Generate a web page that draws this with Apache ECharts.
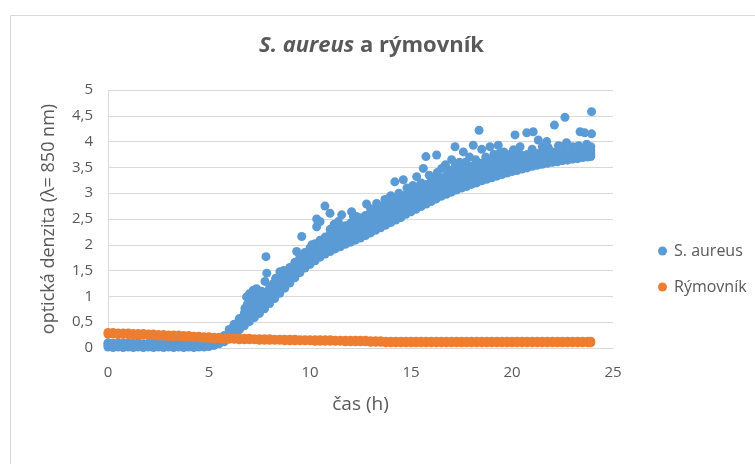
<!DOCTYPE html>
<html>
<head>
<meta charset="utf-8">
<title>S. aureus a rýmovník</title>
<script src="https://cdn.jsdelivr.net/npm/echarts@6/dist/echarts.min.js"></script>
<style>
  html, body { margin: 0; padding: 0; background: #fff; }
  #chart { width: 755px; height: 464px; }
</style>
</head>
<body>
<div id="chart"></div>
<script>
// čas merania (h)
const bandTime = [
  0, 0.25, 0.5, 0.75, 1, 1.25, 1.5, 1.75,
  2, 2.25, 2.5, 2.75, 3, 3.25, 3.5, 3.75,
  4, 4.25, 4.5, 4.75, 5, 5.25, 5.5, 5.75,
  6, 6.25, 6.5, 6.75, 7, 7.25, 7.5, 7.75,
  8, 8.25, 8.5, 8.75, 9, 9.25, 9.5, 9.75,
  10, 10.25, 10.5, 10.75, 11, 11.25, 11.5, 11.75,
  12, 12.25, 12.5, 12.75, 13, 13.25, 13.5, 13.75,
  14, 14.25, 14.5, 14.75, 15, 15.25, 15.5, 15.75,
  16, 16.25, 16.5, 16.75, 17, 17.25, 17.5, 17.75,
  18, 18.25, 18.5, 18.75, 19, 19.25, 19.5, 19.75,
  20, 20.25, 20.5, 20.75, 21, 21.25, 21.5, 21.75,
  22, 22.25, 22.5, 22.75, 23, 23.25, 23.5, 23.75,
  23.9
];

// S. aureus - hustý pás bodov, štyri vrstvy zdola nahor
const aureusLow = [
  0.02, 0.01, 0.02, 0.01, 0.02, 0.01, 0.02, 0.01,
  0.02, 0.01, 0.02, 0.01, 0.02, 0.01, 0.02, 0.01,
  0.02, 0.01, 0.02, 0.02, 0.03, 0.05, 0.08, 0.12,
  0.20, 0.28, 0.35, 0.43, 0.51, 0.59, 0.67, 0.76,
  0.86, 0.96, 1.06, 1.16, 1.26, 1.36, 1.46, 1.55,
  1.62, 1.69, 1.76, 1.82, 1.87, 1.92, 1.96, 2.01,
  2.05, 2.09, 2.13, 2.18, 2.23, 2.28, 2.33, 2.38,
  2.43, 2.48, 2.53, 2.59, 2.64, 2.69, 2.74, 2.79,
  2.84, 2.89, 2.94, 2.98, 3.02, 3.06, 3.10, 3.13,
  3.17, 3.20, 3.24, 3.27, 3.30, 3.33, 3.36, 3.39,
  3.42, 3.44, 3.47, 3.49, 3.52, 3.54, 3.56, 3.58,
  3.60, 3.61, 3.63, 3.64, 3.66, 3.67, 3.69, 3.70,
  3.71
];
const aureusMidLow = [
  0.05, 0.04, 0.05, 0.04, 0.05, 0.04, 0.05, 0.04,
  0.05, 0.05, 0.05, 0.04, 0.05, 0.04, 0.05, 0.04,
  0.05, 0.04, 0.05, 0.05, 0.07, 0.09, 0.12, 0.16,
  0.25, 0.34, 0.42, 0.51, 0.60, 0.69, 0.77, 0.86,
  0.96, 1.06, 1.16, 1.26, 1.36, 1.46, 1.56, 1.65,
  1.73, 1.80, 1.87, 1.93, 1.98, 2.04, 2.08, 2.13,
  2.17, 2.22, 2.26, 2.31, 2.36, 2.41, 2.46, 2.51,
  2.56, 2.61, 2.66, 2.72, 2.77, 2.82, 2.87, 2.92,
  2.97, 3.01, 3.06, 3.10, 3.14, 3.18, 3.22, 3.25,
  3.29, 3.32, 3.35, 3.38, 3.41, 3.43, 3.46, 3.49,
  3.51, 3.53, 3.56, 3.58, 3.60, 3.62, 3.63, 3.65,
  3.67, 3.67, 3.69, 3.70, 3.71, 3.72, 3.74, 3.74,
  3.75
];
const aureusMidHigh = [
  0.08, 0.07, 0.08, 0.07, 0.08, 0.07, 0.08, 0.06,
  0.07, 0.08, 0.07, 0.06, 0.08, 0.07, 0.08, 0.07,
  0.08, 0.07, 0.08, 0.08, 0.10, 0.12, 0.16, 0.20,
  0.31, 0.40, 0.50, 0.60, 0.70, 0.79, 0.88, 0.97,
  1.06, 1.16, 1.26, 1.36, 1.46, 1.56, 1.66, 1.75,
  1.83, 1.91, 1.98, 2.04, 2.10, 2.15, 2.20, 2.25,
  2.30, 2.34, 2.39, 2.44, 2.49, 2.54, 2.59, 2.64,
  2.69, 2.74, 2.79, 2.84, 2.89, 2.94, 2.99, 3.04,
  3.09, 3.14, 3.18, 3.22, 3.26, 3.30, 3.34, 3.37,
  3.40, 3.43, 3.46, 3.49, 3.51, 3.54, 3.56, 3.58,
  3.61, 3.63, 3.64, 3.66, 3.68, 3.69, 3.71, 3.72,
  3.73, 3.74, 3.75, 3.75, 3.77, 3.77, 3.78, 3.79,
  3.80
];
const aureusHigh = [
  0.10, 0.09, 0.10, 0.09, 0.10, 0.09, 0.10, 0.08,
  0.09, 0.10, 0.09, 0.08, 0.10, 0.09, 0.10, 0.09,
  0.10, 0.09, 0.10, 0.10, 0.12, 0.15, 0.19, 0.24,
  0.36, 0.46, 0.57, 0.68, 0.79, 0.89, 0.98, 1.07,
  1.16, 1.26, 1.36, 1.46, 1.56, 1.66, 1.76, 1.85,
  1.94, 2.02, 2.09, 2.15, 2.21, 2.27, 2.32, 2.37,
  2.42, 2.47, 2.52, 2.57, 2.62, 2.67, 2.72, 2.77,
  2.82, 2.87, 2.92, 2.97, 3.02, 3.07, 3.12, 3.17,
  3.22, 3.26, 3.30, 3.34, 3.38, 3.42, 3.46, 3.49,
  3.52, 3.55, 3.58, 3.60, 3.62, 3.64, 3.66, 3.68,
  3.70, 3.72, 3.73, 3.75, 3.76, 3.77, 3.78, 3.79,
  3.80, 3.80, 3.81, 3.81, 3.82, 3.82, 3.83, 3.83,
  3.84
];

// S. aureus - roztrúsené body nad pásom [čas, OD]
const aureusScatter = [
  [6.24, 0.45], [6.5, 0.55], [6.78, 0.77], [6.86, 0.99], [6.9, 0.85], [7.0, 1.05],
  [7.1, 0.95], [7.19, 1.12], [7.3, 1.08], [7.35, 1.15], [7.45, 1.0], [7.5, 1.1],
  [7.6, 1.1], [7.7, 1.05], [7.77, 1.29], [7.82, 1.77], [7.86, 1.45], [8.0, 1.15],
  [8.1, 1.2], [8.2, 1.25], [8.3, 1.35], [8.4, 1.3], [8.51, 1.48], [8.6, 1.4],
  [8.7, 1.5], [8.9, 1.5], [9.34, 1.87], [9.59, 2.16],
  [9.9, 1.85], [10.1, 2.0], [10.33, 2.35], [10.33, 2.5], [10.5, 2.45], [10.74, 2.75],
  [10.99, 2.61], [11.0, 2.3], [11.2, 2.4], [11.4, 2.45], [11.57, 2.58], [11.73, 2.35],
  [12.06, 2.64], [12.15, 2.55], [12.3, 2.55], [12.5, 2.5], [12.8, 2.79], [13.0, 2.7],
  [13.1, 2.62], [13.3, 2.8], [13.47, 2.75], [13.71, 2.88], [13.9, 2.9], [14.0, 2.95],
  [14.2, 3.22], [14.4, 3.0], [14.62, 3.26], [14.8, 3.1], [14.9, 3.05], [15.1, 3.15],
  [15.28, 3.32], [15.5, 3.2], [15.61, 3.48], [15.74, 3.71], [15.9, 3.35], [16.0, 3.3],
  [16.27, 3.74], [16.3, 3.4], [16.52, 3.48], [16.7, 3.55], [16.9, 3.45], [17.01, 3.65],
  [17.18, 3.9], [17.2, 3.55], [17.4, 3.6], [17.59, 3.8], [17.7, 3.6], [17.9, 3.7],
  [18.08, 3.93], [18.2, 3.65], [18.37, 4.22], [18.5, 3.85], [18.7, 3.7], [18.91, 3.9],
  [19.1, 3.75], [19.32, 3.93], [19.4, 3.78], [19.6, 3.8], [19.9, 3.75], [20.07, 3.84],
  [20.15, 4.13], [20.3, 3.82], [20.4, 3.9], [20.73, 4.17], [21.0, 3.85], [21.05, 4.19],
  [21.3, 4.03], [21.5, 3.9], [21.72, 4.0], [21.8, 3.88], [22.1, 4.32], [22.3, 3.92],
  [22.5, 3.9], [22.62, 4.47], [22.7, 3.98], [23.0, 3.9], [23.3, 3.92], [23.37, 4.19],
  [23.6, 4.17], [23.7, 3.95], [23.9, 3.9], [23.94, 4.58], [23.94, 4.15]
];

// Rýmovník - horná a dolná vrstva bodov
const rymovnikOD = [
  0.30, 0.30, 0.29, 0.29, 0.29, 0.28, 0.28, 0.28,
  0.27, 0.27, 0.26, 0.26, 0.25, 0.25, 0.25, 0.24,
  0.24, 0.23, 0.23, 0.22, 0.22, 0.21, 0.21, 0.20,
  0.20, 0.20, 0.19, 0.19, 0.19, 0.18, 0.18, 0.18,
  0.18, 0.17, 0.17, 0.17, 0.17, 0.17, 0.16, 0.16,
  0.16, 0.16, 0.16, 0.16, 0.16, 0.15, 0.15, 0.15,
  0.15, 0.15, 0.15, 0.15, 0.14, 0.14, 0.14, 0.13,
  0.13, 0.13, 0.13, 0.13, 0.13, 0.13, 0.13, 0.13,
  0.13, 0.13, 0.13, 0.13, 0.13, 0.13, 0.13, 0.13,
  0.13, 0.13, 0.13, 0.13, 0.13, 0.13, 0.13, 0.13,
  0.13, 0.13, 0.13, 0.13, 0.13, 0.13, 0.13, 0.13,
  0.13, 0.13, 0.13, 0.13, 0.13, 0.13, 0.13, 0.13,
  0.13
];
const rymovnikLowOD = [
  0.27, 0.27, 0.26, 0.26, 0.26, 0.25, 0.25, 0.25,
  0.24, 0.24, 0.23, 0.23, 0.22, 0.22, 0.22, 0.21,
  0.21, 0.20, 0.20, 0.19, 0.19, 0.18, 0.18, 0.17,
  0.17, 0.17, 0.16, 0.16, 0.16, 0.16, 0.15, 0.15,
  0.15, 0.15, 0.15, 0.14, 0.14, 0.14, 0.14, 0.14,
  0.14, 0.13, 0.13, 0.13, 0.13, 0.13, 0.13, 0.12,
  0.12, 0.12, 0.12, 0.12, 0.11, 0.11, 0.11, 0.10,
  0.10, 0.10, 0.10, 0.10, 0.10, 0.10, 0.10, 0.10,
  0.10, 0.10, 0.10, 0.10, 0.10, 0.10, 0.10, 0.10,
  0.10, 0.10, 0.10, 0.10, 0.10, 0.10, 0.10, 0.10,
  0.10, 0.10, 0.10, 0.10, 0.10, 0.10, 0.10, 0.10,
  0.10, 0.10, 0.10, 0.10, 0.10, 0.10, 0.10, 0.10,
  0.10
];

const textColor = '#595959';
const gridColor = '#d9d9d9';
const fontFamily = '"Open Sans", "Noto Sans", sans-serif';

const commaFormat = (v) => String(v).replace('.', ',');

const aureusData = [];
bandTime.forEach((t, i) => {
  aureusData.push([t, aureusLow[i]]);
  aureusData.push([t, aureusMidLow[i]]);
  aureusData.push([t, aureusMidHigh[i]]);
  aureusData.push([t, aureusHigh[i]]);
});
const aureusAll = aureusData.concat(aureusScatter);

const rymovnikData = [];
bandTime.forEach((t, i) => {
  rymovnikData.push([t, rymovnikLowOD[i]]);
  rymovnikData.push([t, rymovnikOD[i]]);
});

const myChart = echarts.init(document.getElementById('chart'));

const option = {
  animation: false,
  backgroundColor: '#fff',
  textStyle: { fontFamily: fontFamily, color: textColor },
  graphic: [
    {
      type: 'rect',
      left: 8,
      top: 13,
      shape: { width: 800, height: 500 },
      style: { fill: 'none', stroke: gridColor, lineWidth: 1 },
      silent: true,
    },
  ],
  title: {
    text: '{i|S. aureus}{n| a rýmovník}',
    left: 259,
    top: 35,
    padding: 0,
    textStyle: {
      rich: {
        i: { fontFamily: fontFamily, fontStyle: 'italic', fontWeight: 'bold', fontSize: 22, color: textColor },
        n: { fontFamily: fontFamily, fontWeight: 'bold', fontSize: 22, color: textColor },
      },
    },
  },
  legend: {
    orient: 'vertical',
    left: 653,
    top: 237,
    icon: 'circle',
    itemWidth: 9,
    itemHeight: 9,
    itemGap: 18,
    textStyle: {
      fontFamily: fontFamily,
      fontSize: 16,
      color: textColor,
      lineHeight: 18,
      padding: [0, 0, 0, 2],
    },
    data: ['S. aureus', 'Rýmovník'],
  },
  grid: {
    left: 108,
    right: 142,
    top: 90,
    bottom: 116,
  },
  xAxis: {
    type: 'value',
    min: 0,
    max: 25,
    interval: 5,
    name: 'čas (h)',
    nameLocation: 'middle',
    nameGap: 47,
    nameTextStyle: { fontFamily: fontFamily, fontSize: 19, color: textColor },
    axisLine: { show: true, lineStyle: { color: gridColor } },
    axisTick: { show: false },
    splitLine: { show: false },
    axisLabel: { fontFamily: fontFamily, fontSize: 15, color: textColor, margin: 17 },
  },
  yAxis: {
    type: 'value',
    min: 0,
    max: 5,
    interval: 0.5,
    name: 'optická denzita (λ= 850 nm)',
    nameLocation: 'middle',
    nameGap: 50,
    nameTextStyle: { fontFamily: fontFamily, fontSize: 18, color: textColor },
    axisLine: { show: true, lineStyle: { color: gridColor } },
    axisTick: { show: false },
    splitLine: { show: true, lineStyle: { color: gridColor } },
    axisLabel: {
      fontFamily: fontFamily,
      fontSize: 15,
      color: textColor,
      margin: 15,
      formatter: commaFormat,
    },
  },
  series: [
    {
      name: 'S. aureus',
      type: 'scatter',
      symbol: 'circle',
      symbolSize: 9,
      itemStyle: { color: '#5b9bd5', opacity: 1 },
      data: aureusAll,
    },
    {
      name: 'Rýmovník',
      type: 'scatter',
      symbol: 'circle',
      symbolSize: 9,
      itemStyle: { color: '#ed7d31', opacity: 1 },
      data: rymovnikData,
    },
  ],
};

myChart.setOption(option);
</script>
</body>
</html>
